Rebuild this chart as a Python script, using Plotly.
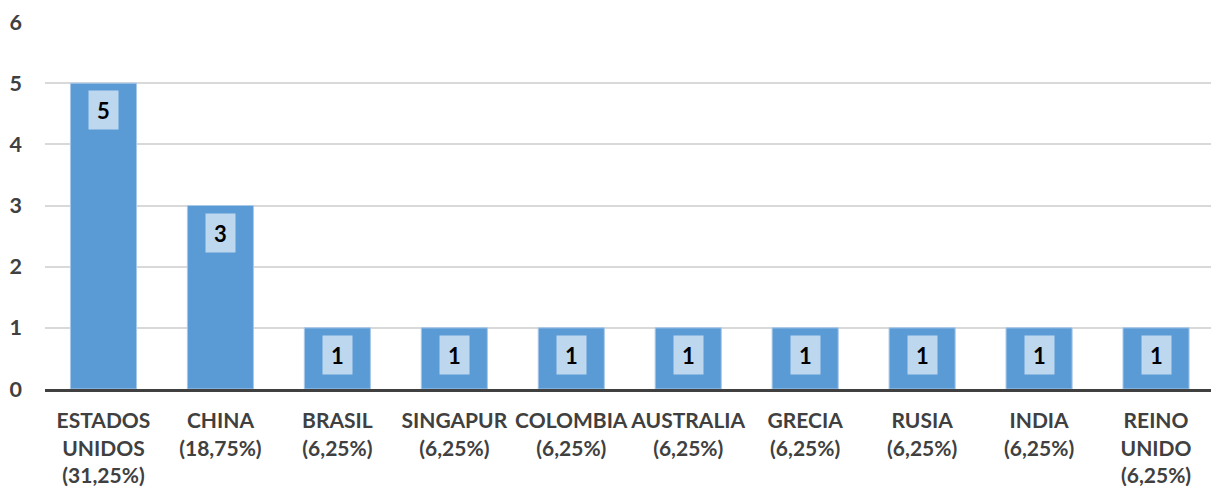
import plotly.graph_objects as go

countries = ["ESTADOS<br>UNIDOS", "CHINA", "BRASIL", "SINGAPUR", "COLOMBIA",
             "AUSTRALIA", "GRECIA", "RUSIA", "INDIA", "REINO<br>UNIDO"]
shares = ["31,25%", "18,75%", "6,25%", "6,25%", "6,25%",
          "6,25%", "6,25%", "6,25%", "6,25%", "6,25%"]
counts = [5, 3, 1, 1, 1, 1, 1, 1, 1, 1]
y_ticks = [0, 1, 2, 3, 4, 5, 6]

labels = [f"{c}<br>({s})" for c, s in zip(countries, shares)]
xpos = list(range(len(labels)))

FONT = "Lato"
BAR = "#5B9BD5"
BOX = "#BDD7EE"

fig = go.Figure()
fig.add_trace(go.Bar(
    x=xpos, y=counts,
    marker=dict(color=BAR, line=dict(color="#A8C8EA", width=1)),
    width=0.565,
    hoverinfo="skip",
))

for x, v in zip(xpos, counts):
    fig.add_annotation(
        x=x, y=v, xref="x", yref="y",
        text=f"<b>{v}</b>", showarrow=False,
        yanchor="top", yshift=-7,
        bgcolor=BOX, width=29, height=38, borderpad=0,
        font=dict(family=FONT, size=22, color="#000000"),
        valign="middle", align="center",
    )

fig.update_layout(
    width=1211, height=492,
    margin=dict(l=45, r=0, t=22, b=103, autoexpand=False),
    plot_bgcolor="white", paper_bgcolor="white",
    showlegend=False,
    bargap=0.44,
    font=dict(family=FONT, size=21, color="#404040"),
)
fig.update_xaxes(
    tickmode="array", tickvals=xpos,
    ticktext=[f"<b>{t}</b>" for t in labels],
    range=[-0.5, 9.47],
    showgrid=False, zeroline=False,
    showline=True, linecolor="#404040", linewidth=3,
    ticks="", ticklabelstandoff=11,
    tickfont=dict(family=FONT, size=21, color="#404040"),
    tickangle=0, automargin=False,
)
fig.update_yaxes(
    range=[0, 6],
    tickmode="array", tickvals=y_ticks,
    ticktext=[f"<b>{t}</b>" for t in y_ticks],
    showgrid=True, gridcolor="#D9D9D9", gridwidth=1.5,
    zeroline=False, showline=False,
    ticks="", ticklabelstandoff=22,
    tickfont=dict(family=FONT, size=21.5, color="#404040"),
    automargin=False,
)

fig.write_html(
    "out.html",
    config={"displayModeBar": False},
    post_script="document.body.style.margin='0';document.body.style.overflow='hidden';",
)
